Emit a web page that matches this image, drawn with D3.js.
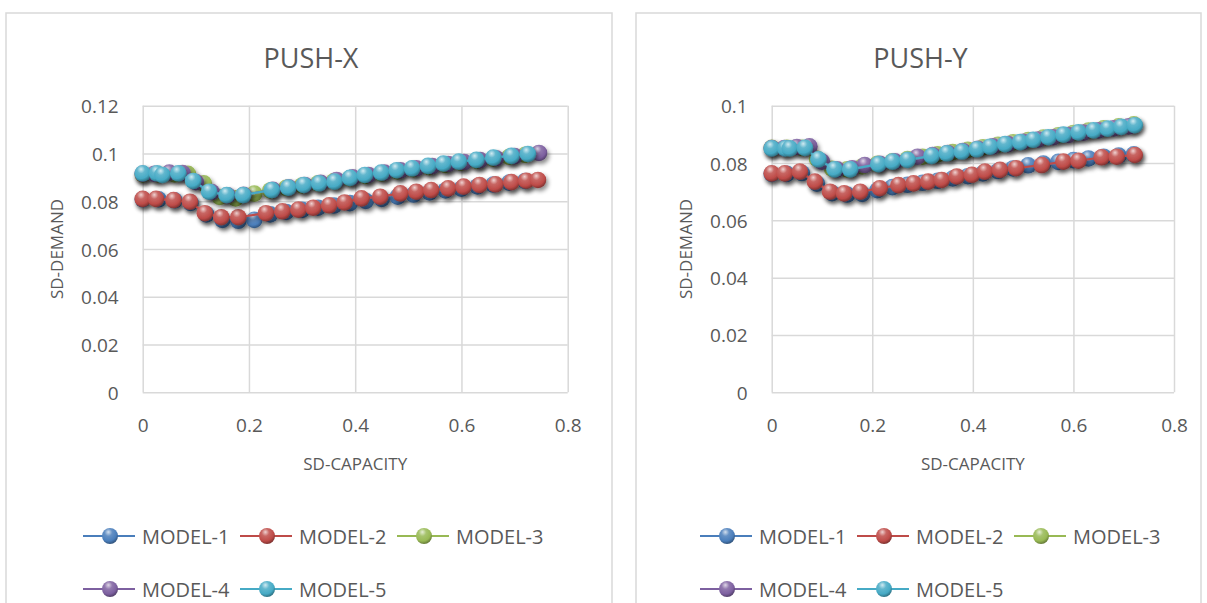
<!DOCTYPE html>
<html>
<head>
<meta charset="utf-8">
<script src="https://cdn.jsdelivr.net/npm/d3@7"></script>
<style>
  body { margin: 0; background: #fff; }
  text { font-family: "Open Sans", "Noto Sans", sans-serif; fill: #595959; }
</style>
</head>
<body>
<div id="chart"></div>
<script>
// ---- data ----
const seriesNames = ['MODEL-1', 'MODEL-2', 'MODEL-3', 'MODEL-4', 'MODEL-5'];
const seriesColors = ['#4a7ebb', '#be4b48', '#98b954', '#7d60a0', '#46aac5'];

const xTicks = [0, 0.2, 0.4, 0.6, 0.8];
const yTicksX = [0, 0.02, 0.04, 0.06, 0.08, 0.1, 0.12];
const yTicksY = [0, 0.02, 0.04, 0.06, 0.08, 0.1];

// PUSH-X
const pushX_m1_x = [0, 0.03, 0.06, 0.09, 0.12, 0.15, 0.18, 0.21, 0.24, 0.27, 0.3, 0.33, 0.36, 0.39, 0.42, 0.45, 0.48, 0.51, 0.54, 0.57, 0.6, 0.63, 0.66, 0.69, 0.72];
const pushX_m1_y = [0.0808, 0.0808, 0.0804, 0.0793, 0.0745, 0.0722, 0.0718, 0.0722, 0.0745, 0.0755, 0.0764, 0.0773, 0.0782, 0.0792, 0.0801, 0.081, 0.0819, 0.0828, 0.0837, 0.0845, 0.0853, 0.0862, 0.087, 0.0878, 0.0885];
const pushX_m2_x = [0, 0.025, 0.058, 0.089, 0.117, 0.148, 0.18, 0.232, 0.263, 0.293, 0.321, 0.351, 0.38, 0.412, 0.447, 0.485, 0.515, 0.543, 0.575, 0.604, 0.634, 0.664, 0.694, 0.722, 0.744];
const pushX_m2_y = [0.081, 0.081, 0.0805, 0.0798, 0.075, 0.0733, 0.0733, 0.075, 0.0758, 0.0765, 0.0773, 0.0783, 0.0795, 0.0812, 0.0819, 0.0833, 0.084, 0.0847, 0.0854, 0.0861, 0.0868, 0.0871, 0.088, 0.0886, 0.0889];
const pushX_m3_x = [0, 0.03, 0.06, 0.085, 0.115, 0.145, 0.175, 0.21, 0.24, 0.27, 0.3, 0.33, 0.36, 0.39, 0.42, 0.45, 0.48, 0.51, 0.54, 0.57, 0.6, 0.63, 0.66, 0.69, 0.72];
const pushX_m3_y = [0.0912, 0.0912, 0.0912, 0.0915, 0.0875, 0.0818, 0.0812, 0.0832, 0.0845, 0.0856, 0.0866, 0.0875, 0.0884, 0.0896, 0.0906, 0.0916, 0.0925, 0.0934, 0.0943, 0.0952, 0.0961, 0.0969, 0.0978, 0.0986, 0.0994];
const pushX_m4_x = [0, 0.022, 0.05, 0.075, 0.1, 0.13, 0.16, 0.19, 0.245, 0.275, 0.305, 0.335, 0.365, 0.395, 0.425, 0.455, 0.485, 0.515, 0.545, 0.575, 0.605, 0.635, 0.665, 0.7, 0.746];
const pushX_m4_y = [0.0915, 0.0915, 0.092, 0.0918, 0.088, 0.0838, 0.0825, 0.0827, 0.0848, 0.0858, 0.0868, 0.0877, 0.0889, 0.09, 0.091, 0.092, 0.0929, 0.0938, 0.0947, 0.0956, 0.0964, 0.0972, 0.098, 0.0989, 0.1002];
const pushX_m5_x = [0, 0.027, 0.037, 0.067, 0.095, 0.125, 0.158, 0.189, 0.243, 0.274, 0.303, 0.332, 0.361, 0.39, 0.418, 0.449, 0.478, 0.507, 0.537, 0.566, 0.595, 0.628, 0.66, 0.694, 0.725];
const pushX_m5_y = [0.0917, 0.0917, 0.091, 0.0917, 0.0885, 0.084, 0.0826, 0.0826, 0.0847, 0.0857, 0.0868, 0.0875, 0.0882, 0.0898, 0.091, 0.092, 0.093, 0.0938, 0.0948, 0.0958, 0.0966, 0.0973, 0.0983, 0.099, 0.0998];

// PUSH-Y
const pushY_m1_x = [0, 0.03, 0.06, 0.09, 0.12, 0.15, 0.18, 0.21, 0.24, 0.27, 0.3, 0.33, 0.36, 0.39, 0.42, 0.45, 0.48, 0.51, 0.54, 0.57, 0.6, 0.63, 0.66, 0.69, 0.72];
const pushY_m1_y = [0.0762, 0.0762, 0.0765, 0.0728, 0.0695, 0.069, 0.0692, 0.0705, 0.0716, 0.0724, 0.0731, 0.0738, 0.0746, 0.0754, 0.0764, 0.0772, 0.0781, 0.0792, 0.0798, 0.0804, 0.081, 0.0816, 0.0822, 0.0826, 0.083];
const pushY_m2_x = [0, 0.026, 0.056, 0.086, 0.116, 0.144, 0.176, 0.215, 0.252, 0.282, 0.311, 0.338, 0.368, 0.398, 0.424, 0.454, 0.486, 0.537, 0.58, 0.61, 0.656, 0.686, 0.722];
const pushY_m2_y = [0.0764, 0.0764, 0.077, 0.0735, 0.07, 0.0694, 0.07, 0.0712, 0.0723, 0.0729, 0.0735, 0.0741, 0.0753, 0.0759, 0.077, 0.0776, 0.0782, 0.0793, 0.0805, 0.0808, 0.082, 0.0822, 0.0828];
const pushY_m3_x = [0, 0.03, 0.06, 0.09, 0.12, 0.15, 0.18, 0.21, 0.24, 0.27, 0.3, 0.33, 0.36, 0.39, 0.42, 0.45, 0.48, 0.51, 0.54, 0.57, 0.6, 0.63, 0.66, 0.69, 0.72];
const pushY_m3_y = [0.0853, 0.0853, 0.0853, 0.0815, 0.078, 0.0778, 0.0788, 0.0797, 0.0806, 0.0814, 0.0822, 0.083, 0.0838, 0.0846, 0.0855, 0.0864, 0.0872, 0.088, 0.0889, 0.0897, 0.0905, 0.0913, 0.0921, 0.0928, 0.0935];
const pushY_m4_x = [0, 0.025, 0.05, 0.075, 0.1, 0.13, 0.16, 0.185, 0.215, 0.245, 0.29, 0.32, 0.35, 0.38, 0.41, 0.44, 0.47, 0.5, 0.53, 0.56, 0.59, 0.62, 0.65, 0.68, 0.71];
const pushY_m4_y = [0.0852, 0.0852, 0.0856, 0.0858, 0.0805, 0.0778, 0.0782, 0.0793, 0.0797, 0.0806, 0.0822, 0.0828, 0.0835, 0.0842, 0.085, 0.0858, 0.0866, 0.0874, 0.0882, 0.089, 0.0898, 0.0906, 0.0914, 0.0921, 0.0928];
const pushY_m5_x = [0, 0.027, 0.036, 0.066, 0.093, 0.125, 0.156, 0.212, 0.24, 0.27, 0.318, 0.348, 0.378, 0.408, 0.434, 0.464, 0.494, 0.52, 0.55, 0.58, 0.61, 0.64, 0.668, 0.695, 0.722];
const pushY_m5_y = [0.0851, 0.0851, 0.0851, 0.0853, 0.0813, 0.0778, 0.0778, 0.0796, 0.0805, 0.0811, 0.0825, 0.0834, 0.084, 0.0848, 0.0857, 0.0866, 0.0873, 0.0881, 0.089, 0.0899, 0.0907, 0.0914, 0.092, 0.0926, 0.0932];

const zip = (xs, ys) => xs.map((x, i) => ({x: x, y: ys[i]}));

const pushXData = [
  zip(pushX_m1_x, pushX_m1_y), zip(pushX_m2_x, pushX_m2_y), zip(pushX_m3_x, pushX_m3_y),
  zip(pushX_m4_x, pushX_m4_y), zip(pushX_m5_x, pushX_m5_y)
];
const pushYData = [
  zip(pushY_m1_x, pushY_m1_y), zip(pushY_m2_x, pushY_m2_y), zip(pushY_m3_x, pushY_m3_y),
  zip(pushY_m4_x, pushY_m4_y), zip(pushY_m5_x, pushY_m5_y)
];

// ---- svg ----
const svg = d3.select('#chart').append('svg')
  .attr('width', 1207)
  .attr('height', 603);

const defs = svg.append('defs');

// sphere gradients for the markers
seriesColors.forEach((c, i) => {
  let g = defs.append('radialGradient')
    .attr('id', 'ball' + i)
    .attr('cx', '40%').attr('cy', '32%').attr('r', '68%')
    .attr('fx', '40%').attr('fy', '25%');
  g.append('stop').attr('offset', '0%').attr('stop-color', d3.interpolateRgb(c, '#fff')(0.75));
  g.append('stop').attr('offset', '35%').attr('stop-color', d3.interpolateRgb(c, '#fff')(0.15));
  g.append('stop').attr('offset', '75%').attr('stop-color', c);
  g.append('stop').attr('offset', '100%').attr('stop-color', d3.color(c).darker(1.1));
});

defs.append('filter')
  .attr('id', 'shadow')
  .attr('x', '-20%').attr('y', '-20%').attr('width', '140%').attr('height', '160%')
  .append('feDropShadow')
  .attr('dx', 2).attr('dy', 3).attr('stdDeviation', 2)
  .attr('flood-color', '#000').attr('flood-opacity', 0.45);

function drawChart(cfg) {
  let g = svg.append('g');

  // chart frame
  g.append('rect')
    .attr('x', cfg.box[0]).attr('y', cfg.box[1])
    .attr('width', cfg.box[2]).attr('height', cfg.box[3])
    .attr('fill', '#fff')
    .attr('stroke', '#d9d9d9')
    .attr('stroke-width', 1.5);

  let x = d3.scaleLinear().domain([0, 0.8]).range([cfg.left, cfg.right]);
  let y = d3.scaleLinear().domain([0, d3.max(cfg.yTicks)]).range([cfg.bottom, cfg.top]);

  // gridlines
  g.append('g')
    .attr('transform', 'translate(' + cfg.left + ',0)')
    .call(d3.axisLeft(y).tickValues(cfg.yTicks).tickSize(-(cfg.right - cfg.left)).tickFormat(''))
    .call(a => a.select('.domain').remove())
    .selectAll('line').attr('stroke', '#d9d9d9').attr('stroke-width', 1.5);

  g.append('g')
    .attr('transform', 'translate(0,' + cfg.bottom + ')')
    .call(d3.axisBottom(x).tickValues(xTicks).tickSize(-(cfg.bottom - cfg.top)).tickFormat(''))
    .call(a => a.select('.domain').remove())
    .selectAll('line').attr('stroke', '#d9d9d9').attr('stroke-width', 1.5);

  // tick labels
  let ya = g.append('g')
    .attr('transform', 'translate(' + cfg.left + ',0)')
    .call(d3.axisLeft(y).tickValues(cfg.yTicks).tickSize(0).tickPadding(24).tickFormat(d => d3.format('')(+d.toFixed(2))));
  ya.select('.domain').remove();
  ya.selectAll('text').style('font-size', '19px').attr('fill', '#595959').attr('font-family', null)
    .attr('dy', null).attr('dominant-baseline', 'central');

  let xa = g.append('g')
    .attr('transform', 'translate(0,' + cfg.bottom + ')')
    .call(d3.axisBottom(x).tickValues(xTicks).tickSize(0).tickFormat(d => d3.format('')(+d.toFixed(1))));
  xa.select('.domain').remove();
  xa.selectAll('text').style('font-size', '19px').attr('fill', '#595959').attr('font-family', null)
    .attr('dy', null).attr('y', 33).attr('dominant-baseline', 'central');

  // titles
  g.append('text')
    .attr('x', cfg.box[0] + cfg.box[2] / 2 + 2)
    .attr('y', 57)
    .attr('text-anchor', 'middle')
    .attr('dominant-baseline', 'central')
    .style('font-size', '27px')
    .text(cfg.title);

  g.append('text')
    .attr('transform', 'translate(' + (cfg.left - 86) + ',' + ((cfg.top + cfg.bottom) / 2) + ') rotate(-90)')
    .attr('text-anchor', 'middle')
    .attr('dominant-baseline', 'central')
    .style('font-size', '17px')
    .text('SD-DEMAND');

  g.append('text')
    .attr('x', (cfg.left + cfg.right) / 2)
    .attr('y', 463)
    .attr('text-anchor', 'middle')
    .attr('dominant-baseline', 'central')
    .style('font-size', '17px')
    .text('SD-CAPACITY');

  // series
  let line = d3.line().x(d => x(d.x)).y(d => y(d.y));
  cfg.data.forEach((s, i) => {
    let sg = g.append('g').attr('filter', 'url(#shadow)');
    sg.append('path')
      .datum(s)
      .attr('d', line)
      .attr('fill', 'none')
      .attr('stroke', seriesColors[i])
      .attr('stroke-width', 2.2);
    sg.selectAll('circle')
      .data(s)
      .enter()
      .append('circle')
      .attr('cx', d => x(d.x))
      .attr('cy', d => y(d.y))
      .attr('r', 8.3)
      .attr('fill', 'url(#ball' + i + ')');
  });

  // legend
  let rows = [536, 589];
  seriesNames.forEach((name, i) => {
    let lx = cfg.legendX + (i % 3) * 157;
    let ly = rows[Math.floor(i / 3)];
    let lg = g.append('g');
    lg.append('line')
      .attr('x1', lx).attr('x2', lx + 52)
      .attr('y1', ly).attr('y2', ly)
      .attr('stroke', seriesColors[i]).attr('stroke-width', 2.2);
    lg.append('circle')
      .attr('cx', lx + 27).attr('cy', ly).attr('r', 8)
      .attr('fill', 'url(#ball' + i + ')');
    lg.append('text')
      .attr('x', lx + 59).attr('y', ly)
      .attr('dominant-baseline', 'central')
      .style('font-size', '20px')
      .text(name);
  });
}

drawChart({
  title: 'PUSH-X',
  box: [6, 13, 606, 610],
  left: 142.7, right: 567.7, top: 105.7, bottom: 392.3,
  yTicks: yTicksX,
  data: pushXData,
  legendX: 83
});

drawChart({
  title: 'PUSH-Y',
  box: [636, 13, 565, 610],
  left: 771.7, right: 1174, top: 105.7, bottom: 392.3,
  yTicks: yTicksY,
  data: pushYData,
  legendX: 700
});
</script>
</body>
</html>
